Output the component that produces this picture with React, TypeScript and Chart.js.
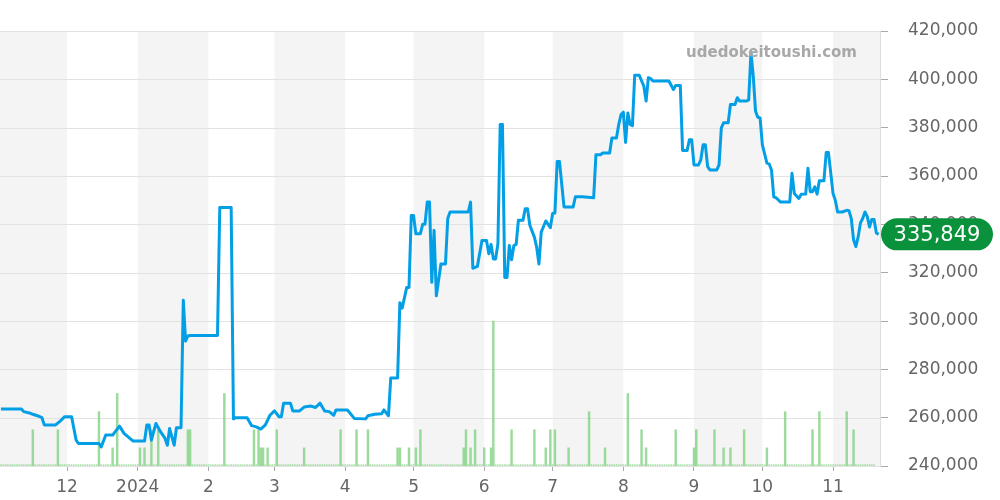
import React, { useEffect, useRef } from "react";
import { Chart, registerables } from "chart.js";

Chart.register(...registerables);

// Day offsets counted from 2023-11-01 (day 0)
const xMinDay = 0.6;
const xMaxDay = 386.6;

const monthStarts = [30, 61, 92, 121, 152, 182, 213, 243, 274, 305, 335, 366];
const monthLabels = ["12", "2024", "2", "3", "4", "5", "6", "7", "8", "9", "10", "11"];
const bandEdges = [0, 30, 61, 92, 121, 152, 182, 213, 243, 274, 305, 335, 366, 397];

const yTicks = [240000, 260000, 280000, 300000, 320000, 340000, 360000, 380000, 400000, 420000];

const priceDays = [
  1, 10, 11, 14, 15, 17, 19, 20, 25, 27, 29, 32, 34, 35, 44, 45, 47, 50, 53, 55,
  59, 64, 65, 66, 67, 69, 71, 73, 74, 75, 77, 78, 80, 81, 82, 83, 84, 96, 97, 102,
  103, 104, 109, 111, 113, 115, 117, 119, 121, 123, 124, 125, 128, 129, 132, 134, 137, 139, 141, 143,
  145, 147, 148, 153, 156, 161, 162, 165, 168, 169, 171, 172, 175, 176, 177, 179, 180, 181, 182, 183,
  185, 186, 187, 188, 189, 190, 191, 192, 194, 196, 197, 198, 206, 207, 208, 210, 212, 214, 215, 216,
  217, 218, 219, 220, 221, 222, 223, 224, 225, 226, 227, 228, 230, 231, 232, 233, 235, 236, 237, 238,
  240, 242, 243, 244, 245, 246, 248, 252, 253, 256, 261, 262, 264, 265, 268, 269, 271, 272, 273, 274,
  275, 276, 277, 278, 279, 281, 283, 284, 285, 286, 287, 294, 296, 297, 299, 300, 302, 303, 304, 305,
  307, 308, 309, 310, 311, 312, 315, 316, 317, 318, 320, 321, 323, 324, 325, 328, 329, 330, 331, 332,
  333, 334, 335, 337, 338, 339, 340, 341, 343, 347, 348, 349, 351, 352, 354, 355, 356, 357, 358, 359,
  360, 362, 363, 364, 366, 367, 368, 370, 372, 373, 374, 375, 376, 377, 378, 379, 380, 381, 382, 383,
  384, 385, 386,
];

const priceValues = [
  263600, 263600, 262500, 261800, 261400, 260800, 260000, 257000, 257000, 258600, 260400, 260400, 250700, 249300, 249300, 247900, 252800, 252800, 256500, 253500,
  250300, 250300, 257000, 257000, 250700, 257600, 254200, 251400, 248600, 255500, 248600, 255800, 255800, 308600, 291700, 293800, 294000, 294000, 347000, 347000,
  259500, 260000, 260000, 256700, 256200, 255300, 257000, 261000, 262800, 260400, 260400, 266000, 266000, 262800, 262800, 264400, 264800, 264200, 266000, 262800,
  262500, 261000, 263200, 263200, 259700, 259500, 260800, 261400, 261600, 263200, 260800, 276400, 276400, 307600, 305300, 313900, 313900, 343700, 343700, 336100,
  336100, 340000, 340000, 349200, 349200, 316000, 337500, 310400, 323600, 323600, 342400, 345100, 345100, 349200, 321800, 322600, 333300, 333300, 327800, 331700,
  325700, 325700, 332000, 381300, 381300, 318000, 318000, 331200, 325300, 331200, 331700, 341700, 341700, 346500, 346500, 339600, 334700, 330500, 323600, 336800,
  341400, 338600, 344500, 344700, 366000, 366000, 347200, 347200, 351400, 351400, 351000, 368800, 368800, 369500, 369500, 375700, 375700, 381300, 385400, 386400,
  373900, 386100, 381300, 380800, 401700, 401700, 397200, 391000, 400700, 400300, 399300, 399300, 395800, 397500, 397500, 370600, 370600, 375000, 375000, 364600,
  364600, 366700, 372900, 372900, 363900, 362500, 362500, 364600, 379900, 382000, 382000, 389600, 389600, 392400, 391000, 391000, 391500, 411100, 401400, 386800,
  384300, 384000, 372900, 365300, 365000, 362500, 351400, 351000, 349200, 349200, 361100, 352800, 350700, 352400, 352500, 363200, 353500, 353500, 355500, 352500,
  358000, 358000, 369700, 369700, 352800, 350000, 345100, 345100, 345800, 345600, 342400, 333600, 330800, 334700, 340500, 342400, 345100, 343300, 338900, 342000,
  342000, 336400, 335849,
];

const volumeDays = [
  15, 26, 44, 50, 52, 62, 64, 67, 70, 83, 84, 99, 112, 114, 115, 116, 118, 122, 134, 150,
  157, 162, 175, 176, 180, 183, 185, 204, 205, 207, 209, 213, 216, 217, 225, 235, 240, 242, 244, 250,
  259, 266, 276, 282, 284, 297, 305, 306, 314, 318, 321, 327, 337, 345, 357, 360, 372, 375,
];
const volumeValues = [
  2, 2, 3, 1, 4, 1, 1, 2, 2, 2, 2, 4, 2, 2, 1, 1, 1, 2, 1, 2,
  2, 2, 1, 1, 1, 1, 2, 1, 2, 1, 2, 1, 1, 8, 2, 2, 1, 2, 2, 1,
  3, 1, 4, 2, 1, 2, 1, 2, 2, 1, 1, 2, 1, 3, 2, 3, 3, 2,
];
const volumeFirstDay = 1;
const volumeLastDay = 384;
const volumeAxisMax = 24;

const watermark = "udedokeitoushi.com";
const FONT = "'DejaVu Sans', sans-serif";

export default function App() {
  const ref = useRef<HTMLCanvasElement | null>(null);

  useEffect(() => {
    const canvas = ref.current;
    if (!canvas) return;

    const pricePoints = priceDays.map((d, i) => ({ x: d, y: priceValues[i] }));
    const volumePoints = volumeDays.map((d, i) => ({ x: d, y: volumeValues[i] }));
    // days without trades: zero-volume bars, shown as a faint dotted baseline
    const zeroPoints: { x: number; y: number }[] = [];
    for (let d = volumeFirstDay; d <= volumeLastDay; d++) {
      if (!volumeDays.includes(d)) zeroPoints.push({ x: d, y: 0 });
    }
    const lastPrice = priceValues[priceValues.length - 1];

    const bandPlugin = {
      id: "bands",
      beforeDatasetsDraw(chart: any) {
        const { ctx, chartArea, scales } = chart;
        const xs = scales.x;
        ctx.save();
        ctx.fillStyle = "#f4f4f4";
        for (let i = 0; i < bandEdges.length - 1; i += 2) {
          const a = Math.max(chartArea.left, xs.getPixelForValue(bandEdges[i]));
          const b = Math.min(chartArea.right, xs.getPixelForValue(bandEdges[i + 1]));
          if (b > a) ctx.fillRect(a, chartArea.top, b - a, chartArea.bottom - chartArea.top);
        }
        ctx.strokeStyle = "#e2e2e2";
        ctx.lineWidth = 1;
        yTicks.forEach((t) => {
          const y = Math.round(scales.y.getPixelForValue(t)) + 0.5;
          ctx.beginPath();
          ctx.moveTo(chartArea.left, y);
          ctx.lineTo(chartArea.right, y);
          ctx.stroke();
        });
        ctx.restore();
      },
    };

    const overlayPlugin = {
      id: "overlay",
      afterDraw(chart: any) {
        const { ctx, chartArea, scales } = chart;
        ctx.save();
        ctx.font = `bold 15px ${FONT}`;
        ctx.fillStyle = "#a8a8a8";
        ctx.textAlign = "right";
        ctx.textBaseline = "middle";
        ctx.fillText(watermark, chartArea.right - 23, 53);
        const y = scales.y.getPixelForValue(lastPrice);
        const x0 = chartArea.right + 1;
        const w = 112;
        const h = 32;
        const r = h / 2;
        ctx.fillStyle = "#0a913c";
        ctx.beginPath();
        ctx.moveTo(x0 + r, y - r);
        ctx.lineTo(x0 + w - r, y - r);
        ctx.arc(x0 + w - r, y, r, -Math.PI / 2, Math.PI / 2);
        ctx.lineTo(x0 + r, y + r);
        ctx.arc(x0 + r, y, r, Math.PI / 2, (3 * Math.PI) / 2);
        ctx.closePath();
        ctx.fill();
        ctx.fillStyle = "#ffffff";
        ctx.font = `21px ${FONT}`;
        ctx.textAlign = "center";
        ctx.fillText(lastPrice.toLocaleString("en-US"), x0 + w / 2, y + 1);
        ctx.restore();
      },
    };

    const chart = new Chart(canvas, {
      data: {
        datasets: [
          {
            type: "line",
            data: pricePoints,
            borderColor: "#039fe6",
            borderWidth: 3,
            pointRadius: 0,
            tension: 0,
            borderJoinStyle: "round",
            yAxisID: "y",
            xAxisID: "x",
            order: 1,
          } as any,
          {
            type: "bar",
            data: volumePoints,
            backgroundColor: "rgba(130, 210, 130, 0.8)",
            barThickness: 1.8,
            grouped: false,
            yAxisID: "v",
            xAxisID: "x",
            order: 2,
          } as any,
          {
            type: "bar",
            data: zeroPoints,
            backgroundColor: "rgba(130, 210, 130, 0.6)",
            barThickness: 1,
            minBarLength: 1.5,
            grouped: false,
            yAxisID: "v",
            xAxisID: "x",
            order: 3,
          } as any,
        ],
      },
      options: {
        animation: false,
        responsive: false,
        maintainAspectRatio: false,
        layout: { padding: { top: 31, left: 0, right: 0, bottom: 0 } },
        plugins: { legend: { display: false }, tooltip: { enabled: false } },
        scales: {
          x: {
            type: "linear",
            min: xMinDay,
            max: xMaxDay,
            offset: false,
            afterBuildTicks(scale: any) {
              scale.ticks = monthStarts.map((v) => ({ value: v }));
            },
            afterFit(scale: any) {
              scale.height = 34;
            },
            ticks: {
              autoSkip: false,
              maxRotation: 0,
              padding: 6,
              color: "#666",
              font: { family: FONT, size: 17 },
              callback: (v: any) => {
                const i = monthStarts.indexOf(Number(v));
                return i >= 0 ? monthLabels[i] : "";
              },
            },
            grid: {
              offset: false,
              drawOnChartArea: false,
              drawTicks: true,
              tickLength: 5,
              color: "#aaa",
            },
            border: { display: true, color: "#ccc" },
          },
          y: {
            type: "linear",
            position: "right",
            min: 240000,
            max: 420000,
            afterBuildTicks(scale: any) {
              scale.ticks = yTicks.map((v) => ({ value: v }));
            },
            afterFit(scale: any) {
              scale.width = 120;
            },
            ticks: {
              padding: 20,
              color: "#666",
              font: { family: FONT, size: 17 },
              callback: (v: any) => Number(v).toLocaleString("en-US"),
            },
            grid: { color: "#e2e2e2", tickLength: 8, drawOnChartArea: false, tickColor: "#aaa" },
            border: { display: true, color: "#ddd" },
          },
          v: {
            type: "linear",
            display: false,
            min: 0,
            max: volumeAxisMax,
          },
        },
      } as any,
      plugins: [bandPlugin, overlayPlugin],
    });

    return () => chart.destroy();
  }, []);

  return (
    <div style={{ position: "fixed", left: 0, top: 0, width: 1000, height: 500, background: "#fff" }}>
      <canvas ref={ref} width={1000} height={500} style={{ display: "block" }} />
    </div>
  );
}
